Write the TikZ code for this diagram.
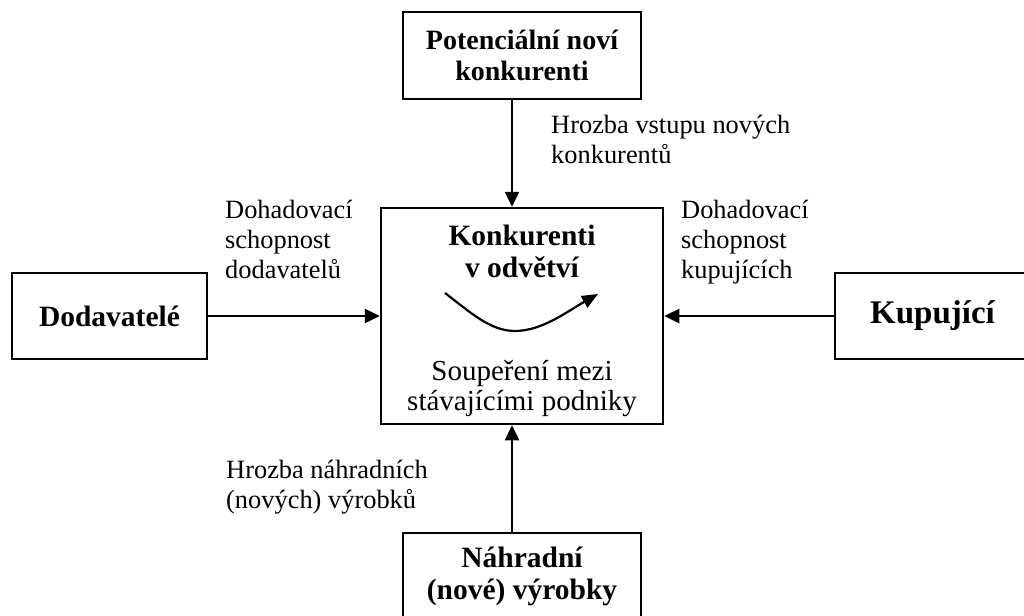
\documentclass[tikz,border=0pt]{standalone}
\usepackage{fontspec}
\setmainfont{Liberation Serif}
\usetikzlibrary{arrows.meta}

\begin{document}
\begin{tikzpicture}[
        x=1pt, y=-1pt,
        font=\fontsize{26.4}{30}\selectfont,
        box/.style={draw, line width=2.5pt, align=center, inner sep=0pt,
            font=\fontsize{29.5}{31.5}\selectfont\bfseries},
        arrow/.style={-{Triangle[length=15pt, width=14pt]}, line width=2.5pt},
        popis/.style={anchor=north west, align=left, inner sep=0pt}
    ]
        % Rozměry
        \def\osa{512}
        \def\sirka{238}
        \def\vyska{87}

        \useasboundingbox (0,0) rectangle (1024,615);

        % Boxy
        \node[box, minimum width=\sirka, minimum height=\vyska,
            font=\fontsize{28}{31}\selectfont\bfseries] (novi) at (522,55.5)
            {Potenciální noví\\konkurenti};
        \node[box, minimum width=282, minimum height=216] (odvetvi) at (522,316) {};
        \node[box, minimum width=195, minimum height=86] (dodavatele) at (109.5,316)
            {Dodavatelé};
        \node[box, minimum width=195, minimum height=86,
            font=\fontsize{33}{33}\selectfont\bfseries] (kupujici) at (932.5,316)
            {Kupující};
        \node[box, minimum width=\sirka, minimum height=\vyska] (nahrada) at (522,576.5)
            {Náhradní\\(nové) výrobky};

        % Texty uvnitř
        \node[anchor=north, align=center, inner sep=0pt,
            font=\fontsize{29.5}{32}\selectfont\bfseries] (nazev) at (522,225)
            {Konkurenti\\v odvětví};
        \node[anchor=north, align=center, inner sep=0pt,
            font=\fontsize{29}{30}\selectfont] (rivalita) at (522,360)
            {Soupeření mezi\\stávajícími podniky};

        % Křivka
        \coordinate (k1) at (445,293);
        \coordinate (k2) at (515,331);
        \coordinate (k3) at (598,294);
        \draw[-{Triangle[length=16pt, width=13pt]}, line width=2.2pt]
            (k1) .. controls (470,312) and (490,331) .. (k2)
            .. controls (542,331) and (568,311) .. (k3);

        % Šipky
        \draw[arrow] (novi.south -| \osa,0) -- (odvetvi.north -| \osa,0);
        \draw[arrow] (nahrada.north -| \osa,0) -- (odvetvi.south -| \osa,0);
        \draw[arrow] (dodavatele.east) -- (odvetvi.west);
        \draw[arrow] (kupujici.west) -- (odvetvi.east);

        % Popisky
        \node[popis] (vstup) at (551,114.5) {Hrozba vstupu nových\\konkurentů};
        \node[popis] (sila1) at (225,199.5) {Dohadovací\\schopnost\\dodavatelů};
        \node[popis] (sila2) at (681,199.5) {Dohadovací\\schopnost\\kupujících};
        \node[popis] (substituty) at (226,459.5) {Hrozba náhradních\\(nových) výrobků};

    \end{tikzpicture}
\end{document}
